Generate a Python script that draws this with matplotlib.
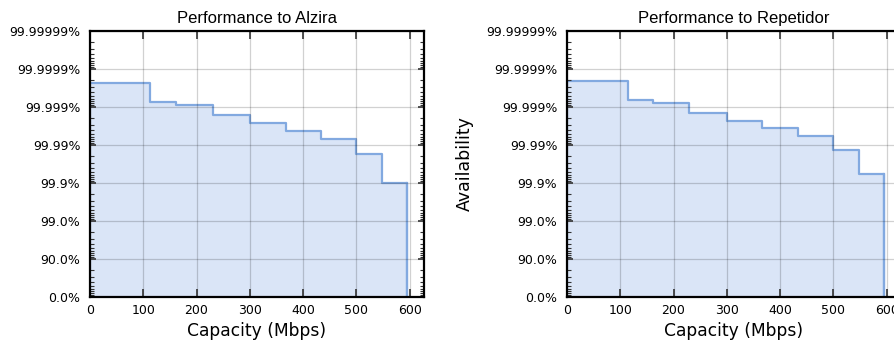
import numpy as np
import matplotlib.pyplot as plt

# Data: availability expressed in "nines" (-log10(1 - availability))
capacity_alzira = [0, 112, 161, 230, 300, 368, 434, 500, 549, 596]
nines_alzira = [5.64, 5.14, 5.04, 4.78, 4.59, 4.37, 4.17, 3.76, 3.0]

capacity_repetidor = [0, 114, 162, 229, 300, 367, 434, 500, 549, 596]
nines_repetidor = [5.68, 5.19, 5.10, 4.83, 4.64, 4.44, 4.24, 3.86, 3.23]

ytick_labels = ['0.0%', '90.0%', '99.0%', '99.9%', '99.99%',
                '99.999%', '99.9999%', '99.99999%']
xticks = [0, 100, 200, 300, 400, 500, 600]

line_color = '#82a9e0'
fill_color = '#dae5f7'


def draw_panel(ax, capacity, nines, title):
    x = np.array(capacity, dtype=float)
    y = np.append(np.array(nines, dtype=float), 0.0)
    ax.fill_between(x, y, 0, step='post', color=fill_color, linewidth=0, zorder=1)
    ax.step(x, y, where='post', color=line_color, linewidth=1.6, zorder=2)
    ax.plot([x[-1], x[-1]], [y[-2], 0], color=line_color, linewidth=1.6, zorder=2)

    ax.set_xlim(0, 627)
    ax.set_ylim(0, 7)
    ax.set_xticks(xticks)
    ax.set_yticks(range(8))
    ax.set_yticklabels(ytick_labels)
    minor = [k + 1 - np.log10(m) for k in range(7) for m in range(2, 10)]
    ax.set_yticks(minor, minor=True)

    ax.grid(True, which='major', color='black', alpha=0.18, linewidth=0.9, zorder=3)
    ax.set_axisbelow(False)
    ax.tick_params(axis='x', which='major', direction='in', length=6, width=1.2,
                   top=True, bottom=True, labelsize=9, pad=5, color='#333333')
    ax.tick_params(axis='y', which='major', direction='in', length=4, width=1.2,
                   left=True, right=True, labelsize=9, pad=7, color='#333333')
    ax.tick_params(axis='y', which='minor', direction='in', length=3, width=0.8,
                   left=True, right=True, color='#333333')
    for s in ax.spines.values():
        s.set_linewidth(1.6)
        s.set_color('black')
        s.set_zorder(4)

    ax.set_title(title, fontsize=12, family='Liberation Sans', pad=6)
    ax.set_xlabel('Capacity (Mbps)', fontsize=12.3, labelpad=4)
    ax.set_ylabel('Availability', fontsize=12.5, labelpad=9)


fig = plt.figure(figsize=(8.94, 3.42), dpi=100)
ax1 = fig.add_axes([90 / 894, 45 / 342, 334 / 894, 266 / 342])
ax2 = fig.add_axes([567 / 894, 45 / 342, 334 / 894, 266 / 342])

draw_panel(ax1, capacity_alzira, nines_alzira, 'Performance to Alzira')
draw_panel(ax2, capacity_repetidor, nines_repetidor, 'Performance to Repetidor')

fig.savefig('out.png', dpi=100)
